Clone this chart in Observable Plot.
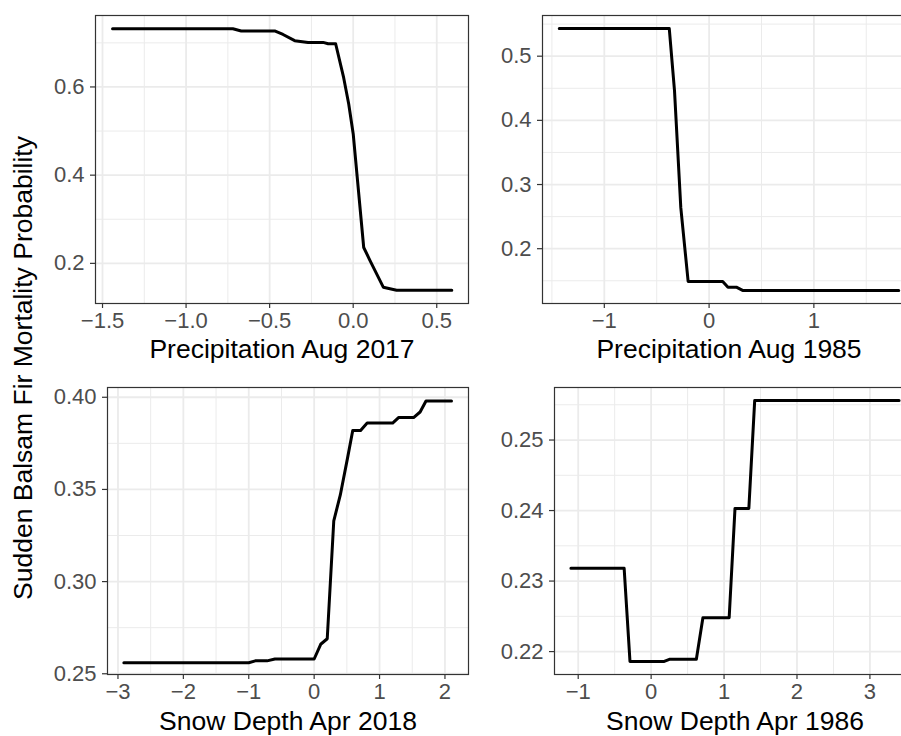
<!DOCTYPE html>
<html>
<head>
<meta charset="utf-8">
<script src="https://cdn.jsdelivr.net/npm/d3@7"></script>
<script src="https://cdn.jsdelivr.net/npm/@observablehq/plot@0.6"></script>
<style>
  html, body { margin: 0; padding: 0; background: white; overflow: hidden; }
  #wrap { position: relative; width: 901px; height: 736px; overflow: hidden; background: white;
          font-family: "Liberation Sans", Arial, Helvetica, sans-serif; }
  #wrap > div.panel { position: absolute; }
  #wrap > div.panel svg { max-width: none !important; }
  #ytitle { position: absolute; left: 23px; top: 368px; transform: translate(-50%, -50%) rotate(-90deg);
            font-size: 26.5px; color: black; white-space: nowrap; }
</style>
</head>
<body>
<div id="wrap"></div>
<script>
// ---- data ----
const precip2017X = [-1.44, -0.72, -0.67, -0.47, -0.42, -0.35, -0.27, -0.18, -0.15, -0.105, -0.057, -0.027, 0.0, 0.063, 0.10, 0.18, 0.26, 0.59];
const precip2017Y = [0.732, 0.732, 0.727, 0.727, 0.719, 0.705, 0.701, 0.701, 0.698, 0.698, 0.621, 0.562, 0.494, 0.236, 0.207, 0.146, 0.139, 0.139];

const precip1985X = [-1.43, -0.38, -0.33, -0.27, -0.20, 0.13, 0.18, 0.26, 0.32, 1.81];
const precip1985Y = [0.543, 0.543, 0.446, 0.264, 0.149, 0.149, 0.140, 0.140, 0.135, 0.135];

const snow2018X = [-2.91, -1.0, -0.9, -0.72, -0.6, 0.0, 0.1, 0.2, 0.3, 0.4, 0.51, 0.59, 0.71, 0.81, 1.2, 1.29, 1.52, 1.62, 1.71, 2.1];
const snow2018Y = [0.256, 0.256, 0.257, 0.257, 0.258, 0.258, 0.266, 0.269, 0.333, 0.347, 0.367, 0.382, 0.382, 0.386, 0.386, 0.389, 0.389, 0.392, 0.398, 0.398];

const snow1986X = [-1.1, -0.37, -0.29, 0.18, 0.25, 0.62, 0.71, 1.07, 1.15, 1.34, 1.42, 3.4];
const snow1986Y = [0.2318, 0.2318, 0.2186, 0.2186, 0.2189, 0.2189, 0.2248, 0.2248, 0.2403, 0.2403, 0.2556, 0.2556];

// ---- tick labels / axis titles ----
const yTitle = "Sudden Balsam Fir Mortality Probability";
const xTitles = ["Precipitation Aug 2017", "Precipitation Aug 1985", "Snow Depth Apr 2018", "Snow Depth Apr 1986"];

const p1XTicks = [-1.5, -1.0, -0.5, 0.0, 0.5];
const p1YTicks = [0.2, 0.4, 0.6];
const p2XTicks = [-1, 0, 1];
const p2YTicks = [0.2, 0.3, 0.4, 0.5];
const p3XTicks = [-3, -2, -1, 0, 1, 2];
const p3YTicks = [0.25, 0.30, 0.35, 0.40];
const p4XTicks = [-1, 0, 1, 2, 3];
const p4YTicks = [0.22, 0.23, 0.24, 0.25];

function minors(ticks, domain) {
  const step = ticks[1] - ticks[0];
  const out = [];
  for (let i = -1; i < ticks.length; i++) {
    const base = i < 0 ? ticks[0] - step : ticks[i];
    const v = base + step / 2;
    if (v > domain[0] && v < domain[1]) out.push(v);
  }
  return out;
}

function panel(cfg) {
  const data = cfg.xs.map((x, i) => ({x, y: cfg.ys[i]}));
  const grid = "#ebebeb";
  const svg = Plot.plot({
    width: cfg.width, height: cfg.height,
    marginLeft: cfg.ml, marginRight: cfg.mr, marginTop: cfg.mt, marginBottom: cfg.mb,
    style: {fontFamily: "'Liberation Sans', Arial, Helvetica, sans-serif", fontSize: "22px", background: "white", color: "#4d4d4d", overflow: "visible", maxWidth: "none"},
    x: {domain: cfg.xDomain},
    y: {domain: cfg.yDomain},
    marks: [
      Plot.ruleX(minors(cfg.xTicks, cfg.xDomain), {stroke: grid, strokeWidth: 1}),
      Plot.ruleY(minors(cfg.yTicks, cfg.yDomain), {stroke: grid, strokeWidth: 1}),
      Plot.ruleX(cfg.xTicks, {stroke: grid, strokeWidth: 1.8}),
      Plot.ruleY(cfg.yTicks, {stroke: grid, strokeWidth: 1.8}),
      Plot.line(data, {x: "x", y: "y", stroke: "black", strokeWidth: 3, strokeLinejoin: "round"}),
      Plot.frame({stroke: "#333333", strokeWidth: 1.2}),
      Plot.axisX(cfg.xTicks, {tickFormat: d3.format(cfg.xFmt), tickSize: 5, tickPadding: 4, fontSize: 22, stroke: "#333333", strokeWidth: 1.2, fill: "#4d4d4d", label: null}),
      Plot.axisY(cfg.yTicks, {tickFormat: d3.format(cfg.yFmt), tickSize: 5, tickPadding: 6, fontSize: 22, stroke: "#333333", strokeWidth: 1.2, fill: "#4d4d4d", label: null}),
      Plot.text([cfg.title], {frameAnchor: "bottom", lineAnchor: "middle", dy: cfg.titleDy, fontSize: 26.5, fill: "black", text: d => d})
    ]
  });
  const div = document.createElement("div");
  div.className = "panel";
  div.style.left = cfg.left + "px";
  div.style.top = cfg.top + "px";
  div.style.width = cfg.width + "px";
  div.style.height = cfg.height + "px";
  div.appendChild(svg);
  return div;
}

const wrap = document.getElementById("wrap");

wrap.appendChild(panel({
  xs: precip2017X, ys: precip2017Y, xTicks: p1XTicks, yTicks: p1YTicks,
  xDomain: [-1.542, 0.69], yDomain: [0.109, 0.762], xFmt: ".1f", yFmt: ".1f",
  title: xTitles[0], titleDy: 46,
  left: 0, top: 0, width: 470, height: 368, ml: 95, mr: 2, mt: 15, mb: 65
}));

wrap.appendChild(panel({
  xs: precip1985X, ys: precip1985Y, xTicks: p2XTicks, yTicks: p2YTicks,
  xDomain: [-1.59, 1.97], yDomain: [0.1146, 0.5634], xFmt: "d", yFmt: ".1f",
  title: xTitles[1], titleDy: 46,
  left: 470, top: 0, width: 450, height: 368, ml: 72, mr: 5, mt: 15, mb: 65
}));

wrap.appendChild(panel({
  xs: snow2018X, ys: snow2018Y, xTicks: p3XTicks, yTicks: p3YTicks,
  xDomain: [-3.16, 2.36], yDomain: [0.2496, 0.4053], xFmt: "d", yFmt: ".2f",
  title: xTitles[2], titleDy: 47,
  left: 0, top: 368, width: 470, height: 368, ml: 107, mr: 2, mt: 19, mb: 62
}));

wrap.appendChild(panel({
  xs: snow1986X, ys: snow1986Y, xTicks: p4XTicks, yTicks: p4YTicks,
  xDomain: [-1.325, 3.625], yDomain: [0.21675, 0.25745], xFmt: "d", yFmt: ".2f",
  title: xTitles[3], titleDy: 47,
  left: 470, top: 368, width: 450, height: 368, ml: 84, mr: 5, mt: 19, mb: 62
}));

const yt = document.createElement("div");
yt.id = "ytitle";
yt.textContent = yTitle;
wrap.appendChild(yt);
</script>
</body>
</html>
